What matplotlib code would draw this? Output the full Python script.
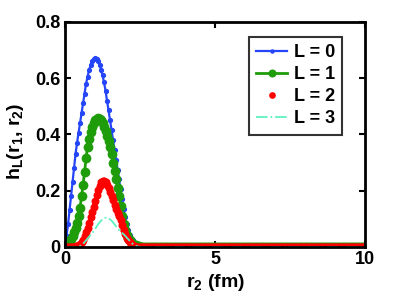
import numpy as np
import matplotlib
matplotlib.use("Agg")
import matplotlib.pyplot as plt

plt.rcParams['font.family'] = ['Liberation Sans', 'DejaVu Sans']
plt.rcParams['font.weight'] = 'bold'
plt.rcParams['mathtext.fontset'] = 'custom'
plt.rcParams['mathtext.bf'] = 'Liberation Sans:bold'
plt.rcParams['mathtext.rm'] = 'Liberation Sans:bold'
plt.rcParams['mathtext.default'] = 'bf'

# r2 grid (fm), 0.05 step
r2 = np.round(np.arange(0, 10.0001, 0.05), 3)

# values for r2 = 0.00 .. 3.00, zero beyond
h0 = [0.0, 0.04, 0.08, 0.13, 0.18, 0.23, 0.28, 0.33, 0.37, 0.405,
      0.44, 0.475, 0.51, 0.545, 0.58, 0.605, 0.628, 0.647, 0.66, 0.668,
      0.67, 0.667, 0.66, 0.648, 0.63, 0.61, 0.585, 0.555, 0.52, 0.485,
      0.45, 0.415, 0.38, 0.345, 0.31, 0.275, 0.24, 0.205, 0.17, 0.135,
      0.105, 0.08, 0.06, 0.044, 0.032, 0.023, 0.016, 0.011, 0.007, 0.005,
      0.003, 0.002, 0.001, 0.0, 0.0, 0.0, 0.0, 0.0, 0.0, 0.0,
      0.0]
h1 = [0.0, 0.004, 0.01, 0.018, 0.028, 0.04, 0.052, 0.066, 0.085, 0.11,
      0.14, 0.18, 0.22, 0.265, 0.315, 0.355, 0.385, 0.41, 0.428, 0.442,
      0.451, 0.456, 0.458, 0.456, 0.45, 0.44, 0.428, 0.413, 0.395, 0.375,
      0.355, 0.33, 0.30, 0.27, 0.24, 0.21, 0.18, 0.145, 0.11, 0.082,
      0.06, 0.044, 0.032, 0.023, 0.016, 0.011, 0.008, 0.005, 0.003, 0.002,
      0.001, 0.0, 0.0, 0.0, 0.0, 0.0, 0.0, 0.0, 0.0, 0.0,
      0.0]
h2 = [0.0, 0.0, 0.0, 0.0, 0.0, 0.0, 0.001, 0.002, 0.004, 0.007,
      0.011, 0.017, 0.026, 0.037, 0.052, 0.068, 0.086, 0.105, 0.123, 0.143,
      0.163, 0.183, 0.202, 0.218, 0.23, 0.236, 0.236, 0.23, 0.22, 0.208,
      0.195, 0.18, 0.165, 0.15, 0.135, 0.122, 0.11, 0.095, 0.078, 0.06,
      0.045, 0.033, 0.024, 0.016, 0.01, 0.006, 0.003, 0.001, 0.0, 0.0,
      0.0, 0.0, 0.0, 0.0, 0.0, 0.0, 0.0, 0.0, 0.0, 0.0,
      0.0]
h3 = [0.0, 0.0, 0.0, 0.0, 0.0, 0.0, 0.0, 0.0, 0.0, 0.001,
      0.003, 0.006, 0.011, 0.017, 0.023, 0.03, 0.036, 0.042, 0.048, 0.055,
      0.063, 0.072, 0.08, 0.087, 0.093, 0.098, 0.102, 0.104, 0.104, 0.102,
      0.098, 0.093, 0.087, 0.08, 0.073, 0.066, 0.06, 0.055, 0.05, 0.045,
      0.04, 0.034, 0.028, 0.022, 0.016, 0.011, 0.007, 0.004, 0.002, 0.001,
      0.0, 0.0, 0.0, 0.0, 0.0, 0.0, 0.0, 0.0, 0.0, 0.0,
      0.0]

labels = ['L = 0', 'L = 1', 'L = 2', 'L = 3']

def pad(v):
    return np.array(v + [0.0] * (len(r2) - len(v)))

fig = plt.figure(figsize=(3.99, 3.0), dpi=100)
ax = fig.add_axes([0.163, 0.177, 0.752, 0.75])

ax.plot(r2, pad(h0), '-', color='#2545f8', lw=1.6, marker='.', ms=5.5, label=labels[0])
ax.plot(r2, pad(h1), '-', color='#1e9c0a', lw=2.0, marker='o', ms=6, label=labels[1])
ax.plot(r2, pad(h2), linestyle='none', color='#ff0000', marker='.', ms=9.5, label=labels[2])
ax.plot(r2, pad(h3), '-.', color='#5ef2c2', lw=1.3, label=labels[3])

ax.set_xlim(0, 10)
ax.set_ylim(0, 0.8)
ax.set_xticks([0, 5, 10])
ax.set_yticks([0, 0.2, 0.4, 0.6, 0.8])
ax.set_yticklabels(['0', '0.2', '0.4', '0.6', '0.8'])
ax.tick_params(direction='in', top=True, right=True, labelsize=13, length=4, width=1.5, pad=3)
for s in ax.spines.values():
    s.set_linewidth(2)

ax.set_xlabel(r'r$_2$ (fm)', fontsize=14, fontweight='bold', labelpad=3)
ax.set_ylabel(r'h$_L$(r$_1$, r$_2$)', fontsize=14, fontweight='bold', labelpad=4)
ax.yaxis.set_label_coords(-0.13, 0.47)

leg = ax.legend(loc='upper right', bbox_to_anchor=(0.923, 0.933), borderaxespad=0,
                fontsize=13, frameon=True, fancybox=False, edgecolor='black',
                handlelength=1.7, labelspacing=0.28, handletextpad=0.35,
                borderpad=0.4, markerscale=0.8)
leg.get_frame().set_linewidth(1.5)

fig.savefig('out.png', dpi=100)
